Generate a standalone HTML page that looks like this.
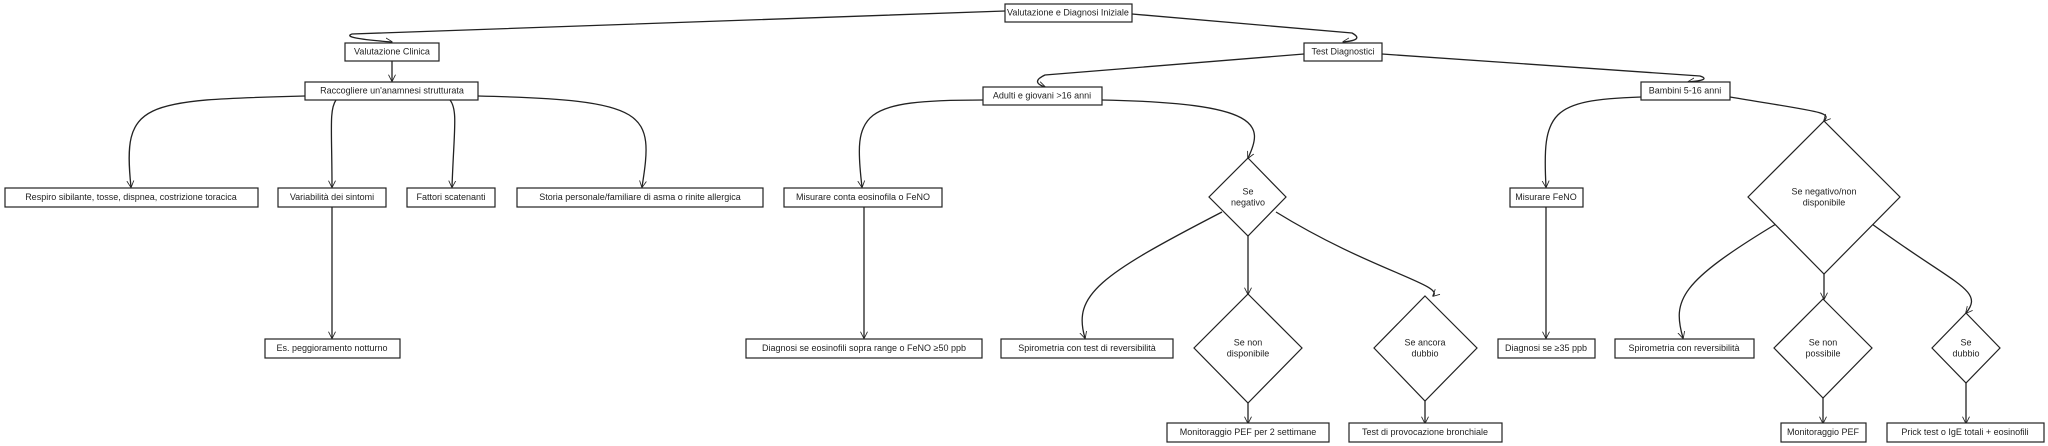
<!DOCTYPE html>
<html><head><meta charset="utf-8"><style>
body{margin:0;background:#fff;}
svg{display:block}
text{font-family:"Liberation Sans",sans-serif;font-size:9px;fill:#222;text-anchor:middle;dominant-baseline:middle}
.b{fill:#fff;stroke:#222;stroke-width:1.2}
.e{fill:none;stroke:#222;stroke-width:1.3}
</style></head><body>
<svg width="2048" height="446" viewBox="0 0 2048 446" xmlns="http://www.w3.org/2000/svg">
<defs><marker id="a" viewBox="0 0 10 10" refX="9" refY="5" markerWidth="7" markerHeight="9" orient="auto" markerUnits="userSpaceOnUse"><path d="M0,0 L10,5 L0,10" fill="none" stroke="#222" stroke-width="1.2"/></marker></defs>
<g class="e" marker-end="url(#a)">
<path d="M1005,11 L352,34 Q340,38 392,42"/>
<path d="M1132,14 L1352,33 Q1365,40 1343,42"/>
<path d="M392,61 V81"/>
<path d="M305,96 C140,100 122,102 131,187"/>
<path d="M336,100 C329,110 332,130 332,187"/>
<path d="M450,100 C458,110 454,130 452,187"/>
<path d="M478,96 C650,100 654,112 642,187"/>
<path d="M332,207 V338"/>
<path d="M1304,54 L1045,75 Q1030,82 1045,87"/>
<path d="M1382,54 L1700,76 Q1712,80 1688,82"/>
<path d="M983,100 C860,100 853,112 862,187"/>
<path d="M1102,100 C1262,103 1264,125 1248,158"/>
<path d="M864,207 V338"/>
<path d="M1222,212 C1100,275 1072,295 1085,338"/>
<path d="M1248,236 V294"/>
<path d="M1276,212 C1370,270 1445,285 1433,296"/>
<path d="M1248,403 V423"/>
<path d="M1425,401 V423"/>
<path d="M1641,97 C1550,100 1542,112 1546,187"/>
<path d="M1730,97 C1820,112 1832,112 1824,121"/>
<path d="M1546,207 V338"/>
<path d="M1776,224 C1680,282 1672,300 1683,338"/>
<path d="M1824,274 V299"/>
<path d="M1872,224 C1955,285 1985,290 1966,313"/>
<path d="M1823,398 V423"/>
<path d="M1966,383 V423"/>
</g>
<g>
<rect class="b" x="1005" y="4" width="127" height="18"/><text x="1068" y="13">Valutazione e Diagnosi Iniziale</text>
<rect class="b" x="345" y="43" width="94" height="18"/><text x="392" y="52">Valutazione Clinica</text>
<rect class="b" x="305" y="82" width="173" height="18"/><text x="392" y="91">Raccogliere un'anamnesi strutturata</text>
<rect class="b" x="5" y="188" width="253" height="19"/><text x="131" y="197.5">Respiro sibilante, tosse, dispnea, costrizione toracica</text>
<rect class="b" x="278" y="188" width="108" height="19"/><text x="332" y="197.5">Variabilità dei sintomi</text>
<rect class="b" x="407" y="188" width="88" height="19"/><text x="451" y="197.5">Fattori scatenanti</text>
<rect class="b" x="517" y="188" width="246" height="19"/><text x="640" y="197.5">Storia personale/familiare di asma o rinite allergica</text>
<rect class="b" x="784" y="188" width="158" height="19"/><text x="863" y="197.5">Misurare conta eosinofila o FeNO</text>
<rect class="b" x="265" y="339" width="135" height="19"/><text x="332" y="348.5">Es. peggioramento notturno</text>
<rect class="b" x="746" y="339" width="236" height="19"/><text x="864" y="348.5">Diagnosi se eosinofili sopra range o FeNO ≥50 ppb</text>
<rect class="b" x="983" y="87" width="119" height="18"/><text x="1042" y="96">Adulti e giovani &gt;16 anni</text>
<rect class="b" x="1304" y="43" width="78" height="18"/><text x="1343" y="52">Test Diagnostici</text>
<rect class="b" x="1641" y="82" width="89" height="18"/><text x="1685" y="91">Bambini 5-16 anni</text>
<polygon class="b" points="1248,158 1286,197 1248,236 1209,197"/><text x="1248" y="192">Se</text><text x="1248" y="203">negativo</text>
<rect class="b" x="1001" y="339" width="172" height="19"/><text x="1087" y="348.5">Spirometria con test di reversibilità</text>
<polygon class="b" points="1248,294 1302,348 1248,403 1194,348"/><text x="1248" y="343">Se non</text><text x="1248" y="354">disponibile</text>
<polygon class="b" points="1425,296 1477,348 1425,401 1374,348"/><text x="1425" y="343">Se ancora</text><text x="1425" y="354">dubbio</text>
<rect class="b" x="1167" y="423" width="162" height="19"/><text x="1248" y="432.5">Monitoraggio PEF per 2 settimane</text>
<rect class="b" x="1349" y="423" width="153" height="19"/><text x="1425" y="432.5">Test di provocazione bronchiale</text>
<rect class="b" x="1510" y="188" width="73" height="19"/><text x="1546" y="197.5">Misurare FeNO</text>
<rect class="b" x="1498" y="339" width="97" height="19"/><text x="1546" y="348.5">Diagnosi se ≥35 ppb</text>
<polygon class="b" points="1824,121 1900,197 1824,274 1748,197"/><text x="1824" y="192">Se negativo/non</text><text x="1824" y="203">disponibile</text>
<rect class="b" x="1615" y="339" width="139" height="19"/><text x="1684" y="348.5">Spirometria con reversibilità</text>
<polygon class="b" points="1823,299 1872,348 1823,398 1774,348"/><text x="1823" y="343">Se non</text><text x="1823" y="354">possibile</text>
<polygon class="b" points="1966,313 2000,348 1966,383 1932,348"/><text x="1966" y="343">Se</text><text x="1966" y="354">dubbio</text>
<rect class="b" x="1781" y="423" width="85" height="19"/><text x="1823" y="432.5">Monitoraggio PEF</text>
<rect class="b" x="1887" y="423" width="157" height="19"/><text x="1965" y="432.5">Prick test o IgE totali + eosinofili</text>
</g>
</svg>
</body></html>
